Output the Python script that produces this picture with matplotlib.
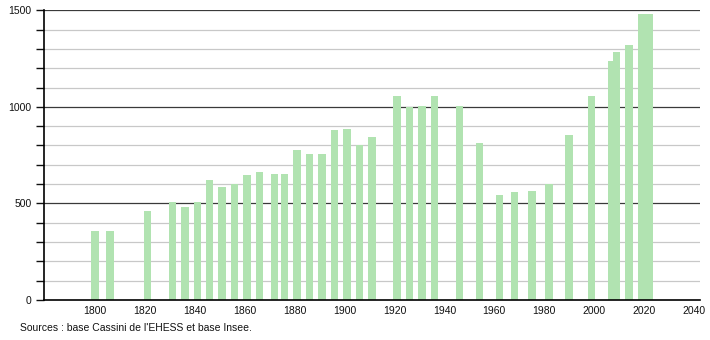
import matplotlib.pyplot as plt
from matplotlib.ticker import MultipleLocator

plt.rcParams['font.family'] = ['Liberation Sans', 'DejaVu Sans']

# census years and population
years = [1800, 1806, 1821, 1831, 1836, 1841, 1846, 1851, 1856, 1861,
         1866, 1872, 1876, 1881, 1886, 1891, 1896, 1901, 1906, 1911,
         1921, 1926, 1931, 1936, 1946, 1954, 1962, 1968, 1975, 1982,
         1990, 1999, 2007, 2009, 2014, 2019, 2020, 2021, 2022]
population = [357, 359, 462, 509, 483, 509, 621, 585, 599, 647,
              664, 652, 652, 777, 756, 756, 880, 886, 803, 844,
              1056, 999, 1005, 1056, 1005, 811, 544, 561, 566, 601,
              854, 1056, 1238, 1286, 1321, 1481, 1481, 1481, 1481]
x_ticks = [1800, 1820, 1840, 1860, 1880, 1900, 1920, 1940, 1960, 1980, 2000, 2020, 2040]
source_text = "Sources : base Cassini de l'EHESS et base Insee."

fig = plt.figure(figsize=(7.1, 3.4), dpi=100)
ax = fig.add_axes([44 / 710, 40 / 340, 656 / 710, 289.7 / 340])

#grid: light every 100, dark every 500
for v in range(100, 1501, 100):
    if v % 500 == 0:
        ax.axhline(v, color='#3a3a3a', lw=0.9, zorder=1)
    else:
        ax.axhline(v, color='#c8c8c8', lw=0.9, zorder=1)

ax.bar(years, population, width=3.0, color='#b1e3b1', zorder=2)

ax.set_xlim(1779.6, 2042.4)
ax.set_ylim(0, 1500)
ax.set_xticks(x_ticks)
ax.set_yticks([0, 500, 1000, 1500])
ax.yaxis.set_minor_locator(MultipleLocator(100))

for s in ['top', 'right']:
    ax.spines[s].set_visible(False)
ax.spines['left'].set_color('black')
ax.spines['bottom'].set_color('black')
ax.spines['left'].set_linewidth(1.2)
ax.spines['bottom'].set_linewidth(1.2)

ax.tick_params(axis='x', length=0, pad=4, labelsize=7.5, colors='#111111')
ax.tick_params(axis='y', which='both', length=6, width=1, direction='out',
               labelsize=7.5, pad=3, colors='#111111')

fig.text(20 / 710, 1 - 328 / 340, source_text, fontsize=7.5, va='center',
         ha='left', color='#111111')

fig.savefig('out.png', dpi=100)
